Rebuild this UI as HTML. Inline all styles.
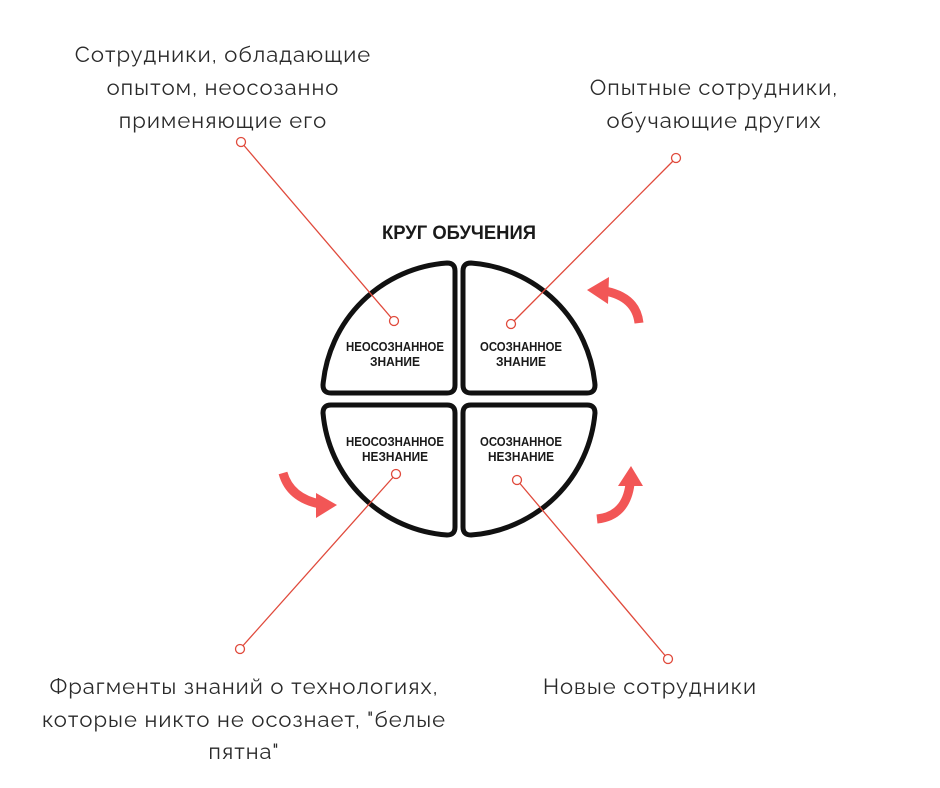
<!DOCTYPE html>
<html><head><meta charset="utf-8"><style>
html,body{margin:0;padding:0;background:#fff;}
svg{display:block}
.t{font-family:"Raleway","Liberation Sans",sans-serif;font-size:22px;fill:#2a2a2a;font-weight:normal;letter-spacing:1px}
.q{font-family:"Liberation Sans",sans-serif;font-size:12.5px;font-weight:bold;fill:#1a1a1a}
</style></head><body>
<svg width="940" height="788" viewBox="0 0 940 788" xmlns="http://www.w3.org/2000/svg">
<g class="t" text-anchor="middle">
<text x="223" y="62">Сотрудники, обладающие</text>
<text x="223" y="95">опытом, неосозанно</text>
<text x="223" y="128">применяющие его</text>
<text x="714" y="95">Опытные сотрудники,</text>
<text x="714" y="128">обучающие других</text>
<text x="244" y="694">Фрагменты знаний о технологиях,</text>
<text x="244" y="727">которые никто не осознает, "белые</text>
<text x="244" y="759">пятна"</text>
<text x="650" y="694">Новые сотрудники</text>
</g>
<text x="459" y="239" text-anchor="middle" font-family="Liberation Sans,sans-serif" font-weight="bold" font-size="19" fill="#1a1a1a" textLength="154" lengthAdjust="spacingAndGlyphs">КРУГ ОБУЧЕНИЯ</text>
<g fill="none" stroke="#111" stroke-width="5" stroke-linejoin="round">
<path d="M447,263 A134,134 0 0 0 323,385 Q323,393 331,393 L447,393 Q455,393 455,385 L455,271 Q455,263 447,263 Z"/>
<path d="M471,263 A134,134 0 0 1 595,385 Q595,393 587,393 L471,393 Q463,393 463,385 L463,271 Q463,263 471,263 Z"/>
<path d="M447,535 A134,134 0 0 1 323,413 Q323,405 331,405 L447,405 Q455,405 455,413 L455,527 Q455,535 447,535 Z"/>
<path d="M471,535 A134,134 0 0 0 595,413 Q595,405 587,405 L471,405 Q463,405 463,413 L463,527 Q463,535 471,535 Z"/>
</g>
<g class="q" text-anchor="middle">
<text x="395" y="351" textLength="98" lengthAdjust="spacingAndGlyphs">НЕОСОЗНАННОЕ</text>
<text x="395" y="366" textLength="50" lengthAdjust="spacingAndGlyphs">ЗНАНИЕ</text>
<text x="521" y="351" textLength="82" lengthAdjust="spacingAndGlyphs">ОСОЗНАННОЕ</text>
<text x="521" y="366" textLength="50" lengthAdjust="spacingAndGlyphs">ЗНАНИЕ</text>
<text x="395" y="446" textLength="98" lengthAdjust="spacingAndGlyphs">НЕОСОЗНАННОЕ</text>
<text x="395" y="461" textLength="66" lengthAdjust="spacingAndGlyphs">НЕЗНАНИЕ</text>
<text x="521" y="446" textLength="82" lengthAdjust="spacingAndGlyphs">ОСОЗНАННОЕ</text>
<text x="521" y="461" textLength="66" lengthAdjust="spacingAndGlyphs">НЕЗНАНИЕ</text>
</g>
<g stroke="#e04a3c" stroke-width="1.3" fill="#fff">
<line x1="241" y1="142" x2="394" y2="321"/>
<line x1="676" y1="158" x2="511" y2="324"/>
<line x1="240" y1="649" x2="396" y2="474"/>
<line x1="668" y1="659" x2="517" y2="480"/>
<circle cx="241" cy="142" r="4.5"/><circle cx="394" cy="321" r="4.5"/>
<circle cx="676" cy="158" r="4.5"/><circle cx="511" cy="324" r="4.5"/>
<circle cx="240" cy="649" r="4.5"/><circle cx="396" cy="474" r="4.5"/>
<circle cx="668" cy="659" r="4.5"/><circle cx="517" cy="480" r="4.5"/>
</g>
<g fill="none" stroke="#f25656" stroke-width="9">
<path d="M639,323 Q636,297 605,291"/>
<path d="M283,473 Q290,498 320,504"/>
<path d="M597,519 Q626,516 630,484"/>
</g>
<g fill="#f25656">
<polygon points="587,290 609,277 608,304"/>
<polygon points="337,505 316,493 316,518"/>
<polygon points="631,466 618,486 643,486"/>
</g>
</svg>
</body></html>
